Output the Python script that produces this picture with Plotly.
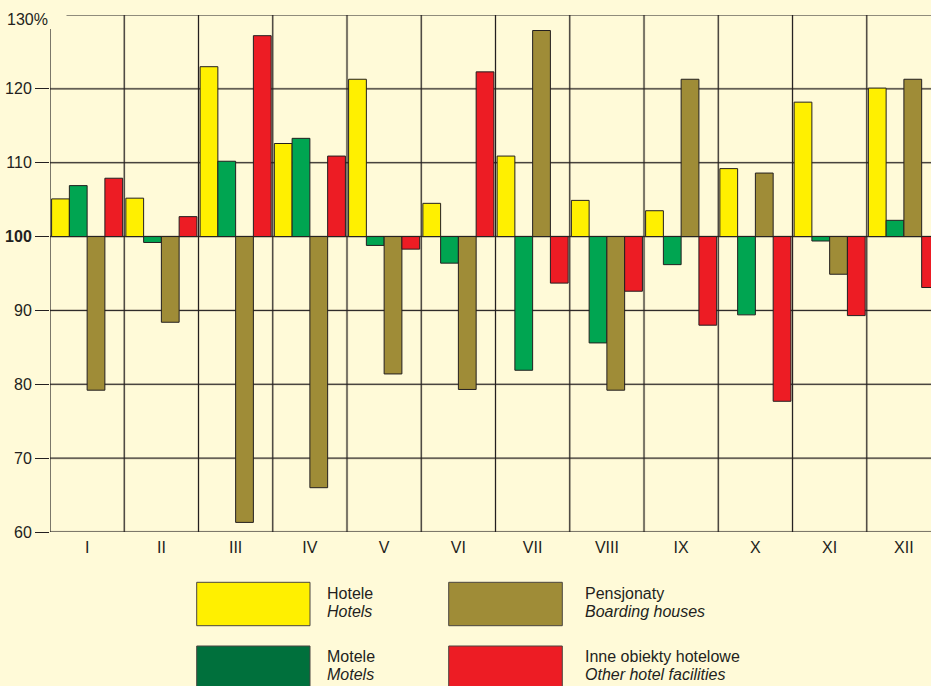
import plotly.graph_objects as go

months = ["I", "II", "III", "IV", "V", "VI", "VII", "VIII", "IX", "X", "XI", "XII"]
hotels = [105.1, 105.2, 123.0, 112.6, 121.3, 104.5, 110.9, 104.9, 103.5, 109.2, 118.2, 120.1]
motels = [106.9, 99.2, 110.2, 113.3, 98.8, 96.4, 81.9, 85.6, 96.2, 89.4, 99.4, 102.2]
boarding = [79.2, 88.4, 61.3, 66.0, 81.4, 79.3, 127.9, 79.2, 121.3, 108.6, 94.9, 121.3]
other = [107.9, 102.7, 127.2, 110.9, 98.3, 122.3, 93.7, 92.6, 88.0, 77.7, 89.3, 93.1]

series_pl = ["Hotele", "Motele", "Pensjonaty", "Inne obiekty hotelowe"]
series_en = ["Hotels", "Motels", "Boarding houses", "Other hotel facilities"]
bar_colors = ["#FFF000", "#00A551", "#9F8C37", "#ED1C24"]
legend_colors = ["#FFF000", "#00703C", "#9F8C37", "#ED1C24"]
y_ticks = [60, 70, 80, 90, 100, 110, 120]

BG = "#FFFAD8"
INK = "#231F20"
W, H = 931, 686
ML, MR, MT, MB = 50, 0, 15, 154
PW = W - ML - MR
PH = H - MT - MB
FS = 16


def px(x):
    return (x - ML) / PW


def py(y):
    return (H - MB - y) / PH


fig = go.Figure()
for name, en, vals, col in zip(series_pl, series_en, [hotels, motels, boarding, other], bar_colors):
    fig.add_trace(go.Bar(
        x=list(range(len(months))),
        y=[v - 100 for v in vals],
        base=100,
        name=f"{name} / {en}",
        marker=dict(color=col, line=dict(color=INK, width=1)),
        showlegend=False,
    ))

HALO = "rgba(60,50,40,0.20)"
shapes = []
for v in y_ticks:
    shapes.append(dict(type="line", xref="paper", yref="y", x0=0, x1=1, y0=v, y1=v,
                       line=dict(color=HALO, width=2.5), layer="below"))
    shapes.append(dict(type="line", xref="paper", yref="y", x0=0, x1=1, y0=v, y1=v,
                       line=dict(color=INK, width=1), layer="below"))
shapes.append(dict(type="line", xref="paper", yref="y", x0=px(66.5), x1=1, y0=130, y1=130,
                   line=dict(color=INK, width=1.2), layer="below"))
for i in range(len(months)):
    xb = i + 0.5
    shapes.append(dict(type="line", xref="x", yref="y", x0=xb, x1=xb, y0=60, y1=130,
                       line=dict(color=HALO, width=2.5), layer="below"))
    shapes.append(dict(type="line", xref="x", yref="y", x0=xb, x1=xb, y0=60, y1=130,
                       line=dict(color=INK, width=1), layer="below"))
shapes.append(dict(type="line", xref="x", yref="y", x0=-0.5, x1=-0.5, y0=60, y1=128.1,
                   line=dict(color=INK, width=1.2), layer="below"))

box_x = [(196.7, 310.0), (196.7, 310.0), (448.7, 562.3), (448.7, 562.3)]
box_y = [(582.3, 625.7), (646.0, 700.0), (582.3, 625.7), (646.0, 700.0)]
text_x = [325, 325, 582.7, 582.7]
text_y = [(593.0, 611.0), (656.5, 674.0), (593.0, 611.0), (656.5, 674.0)]
annotations = []
for k in range(4):
    (x0, x1), (y0, y1) = box_x[k], box_y[k]
    shapes.append(dict(type="rect", xref="paper", yref="paper",
                       x0=px(x0), x1=px(x1), y0=py(y1), y1=py(y0),
                       fillcolor=legend_colors[k], line=dict(color="#4a4540", width=1)))
    annotations.append(dict(xref="paper", yref="paper", x=px(text_x[k]), y=py(text_y[k][0]),
                            xanchor="left", yanchor="middle", showarrow=False,
                            text=series_pl[k], font=dict(size=FS, color=INK)))
    annotations.append(dict(xref="paper", yref="paper", x=px(text_x[k]), y=py(text_y[k][1]),
                            xanchor="left", yanchor="middle", showarrow=False,
                            text=f"<i>{series_en[k]}</i>", font=dict(size=FS, color=INK)))

annotations.append(dict(xref="paper", yref="paper", x=px(5), y=py(19.5),
                        xanchor="left", yanchor="middle", showarrow=False,
                        text="130%", font=dict(size=FS, color=INK)))

fig.update_layout(
    width=W, height=H,
    margin=dict(l=ML, r=MR, t=MT, b=MB, pad=0),
    paper_bgcolor=BG, plot_bgcolor=BG,
    barmode="group", bargap=0.043, bargroupgap=0,
    font=dict(family="Liberation Sans, Arial, sans-serif", size=FS, color=INK),
    shapes=shapes, annotations=annotations,
    showlegend=False,
    xaxis=dict(range=[-0.5, 11.365], tickvals=list(range(len(months))), ticktext=months,
               showgrid=False, zeroline=False, showline=False, ticks="",
               ticklabelstandoff=4,
               tickfont=dict(size=FS, color=INK), fixedrange=True),
    yaxis=dict(range=[60, 130], tickvals=y_ticks,
               ticktext=[("<b>100</b>" if v == 100 else str(v)) for v in y_ticks],
               showgrid=False, zeroline=False, showline=False,
               ticks="outside", ticklen=14, tickcolor=INK, tickwidth=1,
               tickfont=dict(size=FS, color=INK), fixedrange=True),
)

fig.write_html("out.html", config={"displayModeBar": False},
               post_script="document.body.style.margin='0';document.body.style.background='" + BG + "';")
